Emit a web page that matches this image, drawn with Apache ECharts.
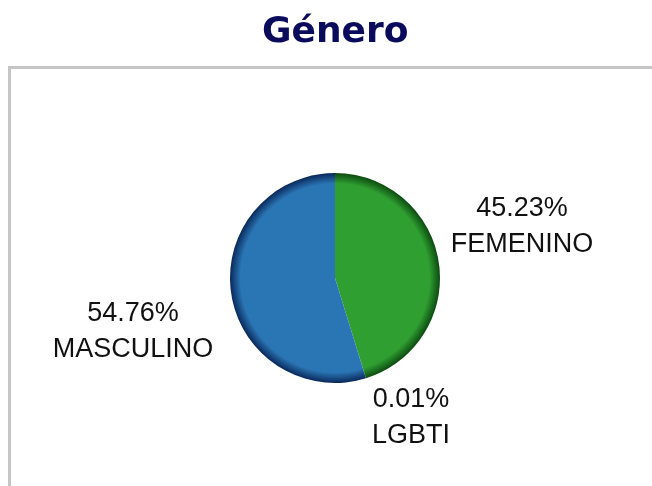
<!DOCTYPE html>
<html>
<head>
<meta charset="utf-8">
<title>Género</title>
<script src="https://cdn.jsdelivr.net/npm/echarts@6/dist/echarts.min.js"></script>
<style>
  html, body { margin: 0; padding: 0; background: #fff; }
  #chart { width: 652px; height: 486px; }
</style>
</head>
<body>
<div id="chart"></div>
<script>
// datos
const categories = ['FEMENINO', 'LGBTI', 'MASCULINO']
const values = [45.23, 0.01, 54.76]

const center = [335, 278]
const radius = 105

// color con borde oscuro en el canto
function rim (main, dark) {
  return new echarts.graphic.RadialGradient(center[0], center[1], radius, [
    { offset: 0, color: main },
    { offset: 0.9, color: main },
    { offset: 1, color: dark }
  ], true)
}

const colors = [
  rim('#2f9f31', '#0c4a10'),
  rim('#8b2c2c', '#4a1010'),
  rim('#2a75b4', '#09285a')
]

// posición de cada etiqueta (centro del bloque de texto)
const labelPos = [[522, 227], [411, 418], [133, 332]]

const chart = echarts.init(document.getElementById('chart'))

chart.setOption({
  animation: false,
  title: {
    text: 'Género',
    left: 257,
    top: 10,
    textStyle: {
      fontFamily: 'DejaVu Sans',
      fontWeight: 'bold',
      fontSize: 36,
      color: '#0b0b5c'
    }
  },
  graphic: [{
    type: 'rect',
    shape: { x: 9.5, y: 67.5, width: 700, height: 500 },
    style: { fill: 'none', stroke: '#c6c6c6', lineWidth: 3 },
    silent: true
  }],
  series: [{
    type: 'pie',
    center: center,
    radius: radius,
    startAngle: 90,
    clockwise: true,
    minAngle: 0,
    avoidLabelOverlap: false,
    data: categories.map((name, i) => ({
      name: name,
      value: values[i],
      itemStyle: { color: colors[i] }
    })),
    label: {
      show: true,
      position: 'outside',
      formatter: p => p.value.toFixed(2) + '%\n' + p.name,
      fontFamily: 'Liberation Sans',
      fontSize: 27,
      lineHeight: 36,
      color: '#111',
      align: 'center'
    },
    labelLine: { show: false },
    labelLayout: p => ({
      x: labelPos[p.dataIndex][0],
      y: labelPos[p.dataIndex][1],
      align: 'center',
      verticalAlign: 'middle'
    })
  }]
})
</script>
</body>
</html>
